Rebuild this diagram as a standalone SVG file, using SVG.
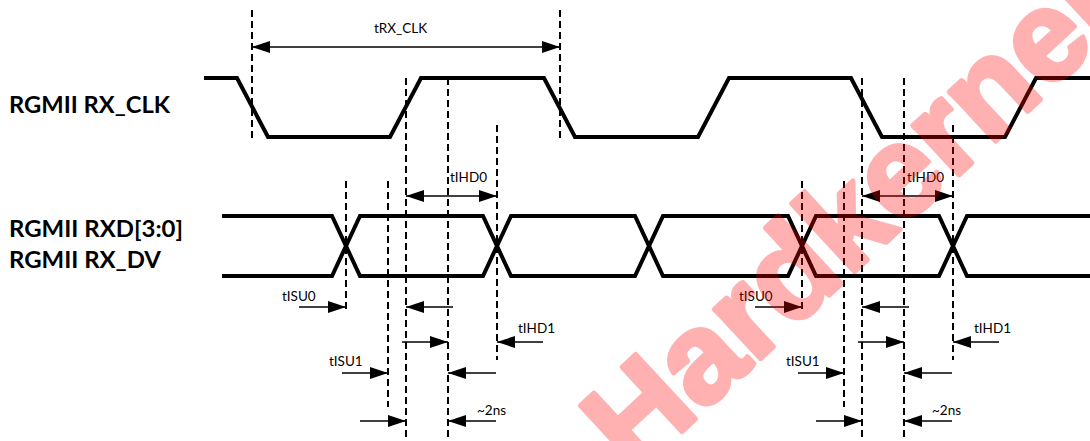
<svg xmlns="http://www.w3.org/2000/svg" width="1090" height="441" viewBox="0 0 1090 441">
<defs>
<marker id="ah" markerUnits="userSpaceOnUse" markerWidth="18" markerHeight="12" refX="18" refY="6" orient="auto-start-reverse" viewBox="0 0 18 12">
<path d="M0,0 L18,6 L0,12 z" fill="#000"/>
</marker>
<style>
.sig{fill:none;stroke:#000;stroke-width:4;stroke-linejoin:miter}
.dash{stroke:#000;stroke-width:2;stroke-dasharray:7 4;fill:none}
.arr{stroke:#000;stroke-width:1.4;fill:none;marker-end:url(#ah)}
.arr2{stroke:#000;stroke-width:1.4;fill:none;marker-end:url(#ah);marker-start:url(#ah)}
.lbl{font-family:"Lato","Liberation Sans",sans-serif;font-weight:bold;font-size:22px;fill:#000}
.sm{font-family:"Lato","Liberation Sans",sans-serif;font-weight:400;font-size:13.5px;fill:#000}
.wm{font-family:"Liberation Sans",Arial,sans-serif;font-weight:bold;font-size:128px;fill:#ff0000;stroke:#ff0000;stroke-width:5;stroke-linejoin:round}
</style>
</defs>
<rect width="1090" height="441" fill="#fff"/>
<g id="labels">
<text class="lbl" x="9" y="113" textLength="161" lengthAdjust="spacingAndGlyphs">RGMII RX_CLK</text>
<text class="lbl" x="9" y="237" textLength="174" lengthAdjust="spacingAndGlyphs">RGMII RXD[3:0]</text>
<text class="lbl" x="9" y="268" textLength="152" lengthAdjust="spacingAndGlyphs">RGMII RX_DV</text>
</g>
<g id="rx_clk">
<path class="sig" d="M204,78 H237 L268,137 H390 L421,78 H544 L575,137 H698 L729,78 H851 L882,137 H1005 L1036,78 H1090"/>
</g>
<g id="rxd">
<path class="sig" d="M222,216 H332 L360,276 H483 L511,216 H635 L663,276 H788 L816,216 H939 L967,276 H1090"/>
<path class="sig" d="M222,276 H332 L360,216 H483 L511,276 H635 L663,216 H788 L816,276 H939 L967,216 H1090"/>
</g>
<g id="guides">
<path class="dash" d="M252,10 V138 M560,10 V138 M346,181 V312 M388,181 V407 M406,78 V441 M448,78 V441 M497,125 V360 M802,181 V312 M844,181 V407 M862,78 V441 M904,78 V441 M953,125 V360"/>
</g>
<g id="connectors">
<path class="arr2" d="M252,47 H560"/>
<path class="arr2" d="M406,196 H497"/>
<path class="arr2" d="M862,196 H953"/>
<path class="arr" d="M299,307 H346"/>
<path class="arr" d="M453,307 H406"/>
<path class="arr" d="M402,342 H448"/>
<path class="arr" d="M543,342 H497"/>
<path class="arr" d="M342,373 H388"/>
<path class="arr" d="M496,373 H448"/>
<path class="arr" d="M360,421 H406"/>
<path class="arr" d="M496,421 H448"/>
<path class="arr" d="M755,307 H802"/>
<path class="arr" d="M909,307 H862"/>
<path class="arr" d="M858,342 H904"/>
<path class="arr" d="M999,342 H953"/>
<path class="arr" d="M798,373 H844"/>
<path class="arr" d="M952,373 H904"/>
<path class="arr" d="M816,421 H862"/>
<path class="arr" d="M952,421 H904"/>
</g>
<g id="timing-labels">
<text class="sm" x="374" y="33">tRX_CLK</text>
<text class="sm" x="450" y="182">tIHD0</text>
<text class="sm" x="907" y="182">tIHD0</text>
<text class="sm" x="282" y="301">tISU0</text>
<text class="sm" x="739" y="301">tISU0</text>
<text class="sm" x="518" y="333">tIHD1</text>
<text class="sm" x="974" y="333">tIHD1</text>
<text class="sm" x="329" y="366">tISU1</text>
<text class="sm" x="786" y="366">tISU1</text>
<text class="sm" x="477" y="415">~2ns</text>
<text class="sm" x="932" y="415">~2ns</text>
</g>
<g id="watermark" opacity="0.3">
<text class="wm" transform="translate(634,476) rotate(-42.8)">Hardkernel</text>
</g>
</svg>
